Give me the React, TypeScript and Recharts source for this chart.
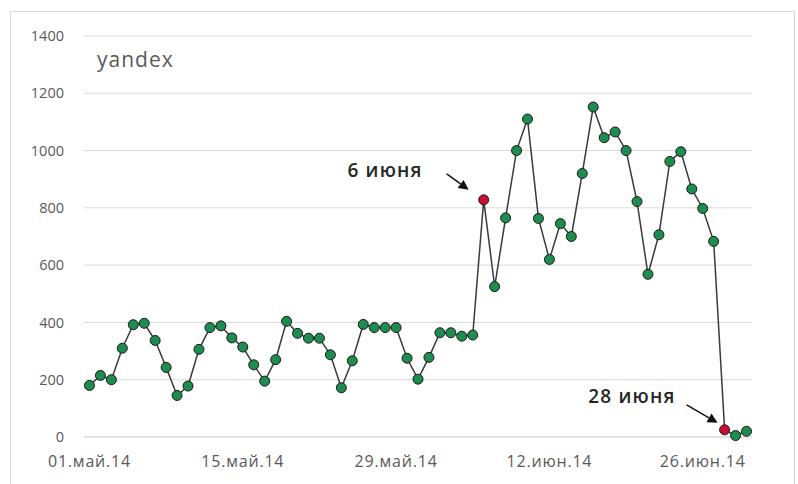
import React from 'react';
import {
    LineChart,
    Line,
    XAxis,
    YAxis,
    CartesianGrid,
    ReferenceDot
} from 'recharts';

// daily visits, 01.05.2014 – 30.06.2014
const visits: number[] = [
    180, 215, 200, 310, 392, 397, 337, 243, 145, 178,
    306, 382, 388, 346, 314, 252, 195, 270, 404, 362,
    345, 345, 287, 172, 266, 393, 382, 382, 382, 275,
    202, 278, 364, 364, 352, 356, 828, 525, 765, 1000,
    1110, 763, 620, 745, 700, 920, 1152, 1045, 1065, 1000,
    822, 568, 706, 962, 996, 866, 798, 683, 25, 5,
    20
];

const monthNames: string[] = ['май', 'июн'];
const monthLengths: number[] = [31, 30];

const xTicks: number[] = [0, 14, 28, 42, 56];
const yTicks: number[] = [0, 200, 400, 600, 800, 1000, 1200, 1400];

const markedDays: number[] = [36, 58];
const markedLabels: string[] = ['6 июня', '28 июня'];

const dayLabel = (i: number) => {
    let d = i;
    let m = 0;
    while (m < monthLengths.length - 1 && d >= monthLengths[m]) {
        d -= monthLengths[m];
        m++;
    }
    return `${String(d + 1).padStart(2, '0')}.${monthNames[m]}.14`;
};

const data = visits.map((v, i) => ({ day: i, value: v }));

const FONT = '"Open Sans", "Noto Sans", sans-serif';

const renderDot = (props: any) => {
    const { cx, cy, index } = props;
    const red = markedDays.includes(index);
    return (
        <circle
            key={`dot-${index}`}
            cx={cx}
            cy={cy}
            r={5}
            fill={red ? '#c8102e' : '#1e8c4e'}
            stroke="#1a1a1a"
            strokeWidth={1}
        />
    );
};

const makeCallout = (text: string, tx: number, ty: number, ax1: number, ay1: number, ax2: number, ay2: number) =>
    (props: any) => {
        const { cx, cy } = props;
        const dx = ax2 - ax1;
        const dy = ay2 - ay1;
        const len = Math.sqrt(dx * dx + dy * dy);
        const ux = dx / len;
        const uy = dy / len;
        const hx = cx + ax2;
        const hy = cy + ay2;
        const bx = hx - ux * 10;
        const by = hy - uy * 10;
        return (
            <g>
                <text
                    x={cx + tx}
                    y={cy + ty}
                    textAnchor="end"
                    dominantBaseline="central"
                    fontFamily={FONT}
                    fontSize={19}
                    fontWeight={600}
                    letterSpacing={1.2}
                    fill="#262626"
                >
                    {text}
                </text>
                <line x1={cx + ax1} y1={cy + ay1} x2={bx} y2={by} stroke="#111" strokeWidth={1.5} />
                <polygon
                    points={`${hx},${hy} ${bx - uy * 5},${by + ux * 5} ${bx + uy * 5},${by - ux * 5}`}
                    fill="#111"
                />
            </g>
        );
    };

const callouts = [
    makeCallout(markedLabels[0], -61, -30, -37, -26, -15, -10),
    makeCallout(markedLabels[1], -49, -34, -38, -25, -7, -7)
];

export default function App() {
    return (
        <div style={{ position: 'absolute', left: 0, top: 0, width: 798, height: 484, background: '#fff' }}>
            <div
                style={{
                    position: 'absolute',
                    left: 10,
                    top: 11,
                    width: 785,
                    height: 480,
                    border: '1px solid #d9d9d9',
                    boxSizing: 'border-box'
                }}
            />
            <div
                style={{
                    position: 'absolute',
                    left: 97,
                    top: 45,
                    fontFamily: FONT,
                    fontSize: 21,
                    letterSpacing: 1,
                    color: '#595959'
                }}
            >
                yandex
            </div>
            <LineChart
                width={798}
                height={484}
                data={data}
                margin={{ top: 36, right: 46, bottom: 17, left: 24 }}
                style={{ position: 'absolute', left: 0, top: 0 }}
            >
                <CartesianGrid vertical={false} stroke="#d9d9d9" strokeWidth={1} />
                <XAxis
                    type="number"
                    dataKey="day"
                    domain={[-0.5, 60.5]}
                    ticks={xTicks}
                    tickFormatter={dayLabel}
                    allowDataOverflow
                    height={30}
                    tickLine={false}
                    axisLine={{ stroke: '#d9d9d9' }}
                    tickSize={0}
                    tickMargin={19}
                    tick={{ fill: '#595959', fontSize: 16, letterSpacing: 0.8, fontFamily: FONT }}
                />
                <YAxis
                    type="number"
                    domain={[0, 1400]}
                    ticks={yTicks}
                    width={60}
                    tickLine={false}
                    axisLine={false}
                    tickSize={0}
                    tickMargin={20}
                    tick={{ fill: '#595959', fontSize: 14.5, fontFamily: FONT }}
                />
                <Line
                    type="linear"
                    dataKey="value"
                    stroke="#3a3a3a"
                    strokeWidth={1.5}
                    dot={renderDot}
                    activeDot={false}
                    isAnimationActive={false}
                />
                {markedDays.map((d, i) => (
                    <ReferenceDot
                        key={`ann-${i}`}
                        x={d}
                        y={visits[d]}
                        r={0}
                        shape={callouts[i]}
                        ifOverflow="visible"
                    />
                ))}
            </LineChart>
        </div>
    );
}
